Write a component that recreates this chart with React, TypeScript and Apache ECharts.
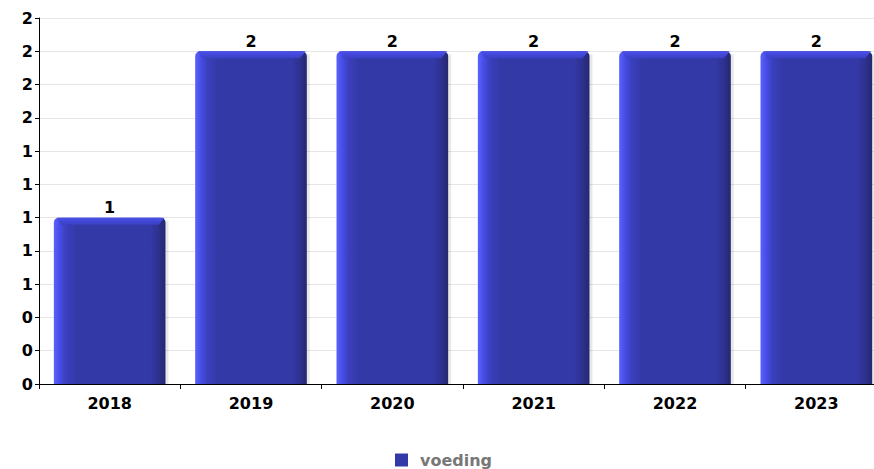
import React, { useEffect, useRef } from "react";
import * as echarts from "echarts";

const categories = ["2018", "2019", "2020", "2021", "2022", "2023"];
const values = [1, 2, 2, 2, 2, 2];
const seriesName = "voeding";
const yMin = 0;
const yMax = 2.2;
const yInterval = 0.2;

const FONT = "'DejaVu Sans', sans-serif";

export default function App() {
  const ref = useRef<HTMLDivElement>(null);
  useEffect(() => {
    document.body.style.margin = "0";
    const chart = echarts.init(ref.current!, null, { renderer: "svg" });
    const renderItem = (params: any, api: any) => {
      const idx = api.value(0);
      const v = api.value(1);
      const top = api.coord([idx, v]);
      const bottom = api.coord([idx, 0]);
      const band = api.size([1, 0])[0];
      const w = band * 0.79;
      const x0 = top[0] - w / 2;
      const x1 = top[0] + w / 2;
      const y0 = top[1];
      const y1 = bottom[1];
      const h = y1 - y0;
      const b = 7;
      return {
        type: "group",
        children: [
          {
            type: "rect",
            shape: { x: x0 + 3, y: y0 + 3, width: w, height: h - 3 },
            style: { fill: "rgba(0,0,0,0.09)" },
          },
          {
            type: "rect",
            shape: { x: x0, y: y0, width: w, height: h, r: [5, 5, 0, 0] },
            style: {
              fill: new echarts.graphic.LinearGradient(0, 0, 1, 0, [
                { offset: 0, color: "#5a61ff" },
                { offset: 0.05, color: "#474ee6" },
                { offset: 0.11, color: "#3a3fbd" },
                { offset: 0.2, color: "#3439a8" },
                { offset: 0.86, color: "#3439a8" },
                { offset: 0.93, color: "#2e3292" },
                { offset: 1, color: "#25286f" },
              ]),
            },
          },
          {
            type: "polygon",
            shape: {
              points: [
                [x0 + 3, y0],
                [x1 - 1, y0],
                [x1 - b, y0 + b],
                [x0 + b, y0 + b],
              ],
            },
            style: {
              fill: new echarts.graphic.LinearGradient(0, 0, 0, 1, [
                { offset: 0, color: "#4a50ea" },
                { offset: 1, color: "#3a40c4" },
              ]),
            },
          },
          {
            type: "text",
            style: {
              text: String(v),
              x: top[0],
              y: y0 - 2,
              align: "center",
              verticalAlign: "bottom",
              fontFamily: FONT,
              fontWeight: "bold",
              fontSize: 16,
              fill: "#000",
            },
          },
        ],
      };
    };
    chart.setOption({
      animation: false,
      backgroundColor: "#fff",
      grid: {
        left: 39,
        top: 18,
        width: 848,
        height: 366,
        containLabel: false,
        outerBoundsMode: "none",
      },
      legend: {
        data: [{ name: seriesName, icon: "rect" }],
        left: 395,
        top: 452,
        padding: 0,
        itemWidth: 13,
        itemHeight: 13,
        itemGap: 10,
        textStyle: {
          color: "#777",
          fontFamily: FONT,
          fontWeight: "bold",
          fontSize: 16,
          lineHeight: 16,
          padding: [0, 0, 0, 7],
        },
      },
      xAxis: {
        type: "category",
        data: categories,
        axisLine: { show: true, lineStyle: { color: "#000", width: 1 } },
        axisTick: { show: true, alignWithLabel: false, length: 5, lineStyle: { color: "#000" } },
        axisLabel: {
          color: "#000",
          fontFamily: FONT,
          fontWeight: "bold",
          fontSize: 16,
          margin: 11,
        },
        splitLine: { show: false },
      },
      yAxis: {
        type: "value",
        min: yMin,
        max: yMax,
        interval: yInterval,
        axisLine: { show: true, lineStyle: { color: "#000", width: 1 } },
        axisTick: { show: true, length: 4, lineStyle: { color: "#000" } },
        axisLabel: {
          color: "#000",
          fontFamily: FONT,
          fontWeight: "bold",
          fontSize: 16,
          margin: 6,
          formatter: (val: number) => String(Math.round(val)),
        },
        splitLine: { show: true, lineStyle: { color: "#e6e6e6", width: 1 } },
      },
      series: [
        {
          name: seriesName,
          type: "custom",
          itemStyle: { color: "#3439a8" },
          renderItem,
          encode: { x: 0, y: 1 },
          data: values.map((v, i) => [i, v]),
        },
      ],
    });
    return () => chart.dispose();
  }, []);
  return <div ref={ref} style={{ width: 874, height: 469 }} />;
}
